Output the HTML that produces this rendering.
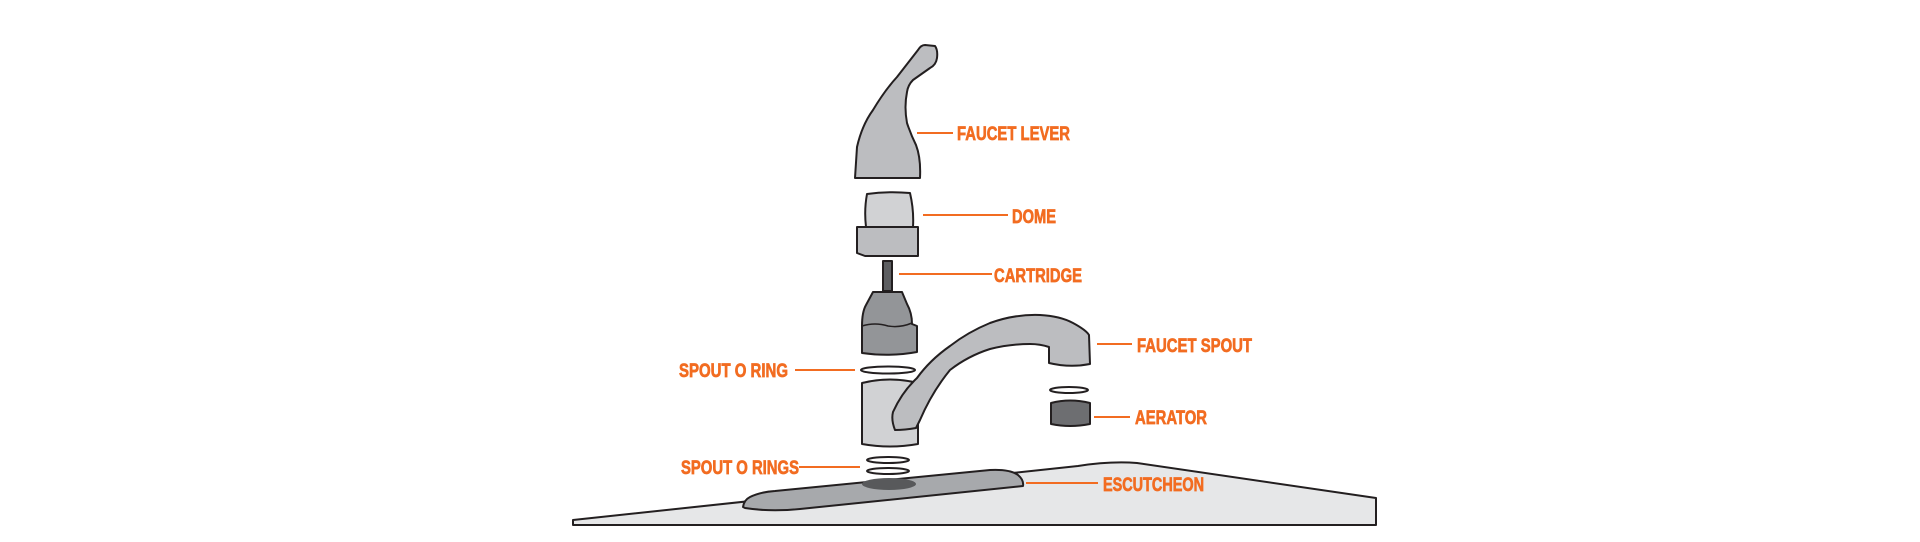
<!DOCTYPE html>
<html><head><meta charset="utf-8"><style>
html,body{margin:0;padding:0;background:#fff;}
svg{display:block;}
text{font-family:"Liberation Sans Narrow","Liberation Sans",sans-serif;font-weight:bold;fill:#f26c21;stroke:#f26c21;stroke-width:0.7px;font-size:19px;}
</style></head><body>
<svg width="1920" height="542" viewBox="0 0 1920 542" xmlns="http://www.w3.org/2000/svg">
<g stroke="#231f20" stroke-width="2" stroke-linejoin="round">
<path d="M573,520 L1078,466 Q1110,461 1137,463 L1376,498 L1376,525 L573,525 Z" fill="#e6e7e8"/>
<path d="M743,507 Q744,500 750,497 Q760,492 775,491 L990,470 Q1010,469 1018,475 Q1024,480 1023,486 L800,509 Q770,512 745,508 Z" fill="#a7a9ac"/>
<ellipse cx="889" cy="484" rx="27" ry="6" fill="#58595b" stroke="none"/>
<path d="M855,178 L857,147 Q862,125 873,110 Q885,90 897,77 L918,50 Q921,45 925,45 L935,46 Q938,50 937,58 Q936,65 930,68 L913,80 Q908,85 907,92 Q904,107 907,123 Q911,135 916,145 Q921,158 920,178 Z" fill="#bcbdc0"/>
<path d="M866,227 Q864,210 867,194 Q888,191 910,193 Q914,210 913,227 Z" fill="#d1d2d4"/>
<path d="M857,227 L918,227 L918,256 L865,256 L857,253 Z" fill="#bcbdc0"/>
<rect x="883" y="261" width="9" height="30" fill="#5d5e61"/>
<path d="M873,292 L902,292 L907,304 Q912,313 912,324 L917,326 L917,352 Q890,357 862,353 L862,326 Q862,312 866,305 Z" fill="#939598"/>
<path d="M862,326 Q875,322 888,326 Q900,328 912,323" fill="none" stroke-width="1.5"/>
<ellipse cx="888" cy="370" rx="27" ry="3.5" fill="#fff"/>
<path d="M862,383 Q890,376 918,383 L918,444 Q890,449 862,444 Z" fill="#d1d2d4"/>
<path d="M893,412 Q902,392 917,378 Q930,360 950,346 Q968,332 990,323 Q1015,314 1040,315 Q1060,316 1073,323 Q1086,330 1089,335 L1090,364 Q1070,368 1049,363 L1049,347 Q1040,344 1030,344 Q1010,344 990,349 Q968,356 950,370 Q932,392 920,420 L916,428 Q905,430 895,430 Q891,420 893,412 Z" fill="#bcbdc0"/>
<ellipse cx="1069" cy="390" rx="19" ry="3" fill="#fff"/>
<path d="M1051,403 Q1070,398 1090,403 L1090,424 Q1070,428 1051,424 Z" fill="#6d6e71"/>
<ellipse cx="888" cy="460" rx="21" ry="3" fill="#fff"/>
<ellipse cx="888" cy="471" rx="21" ry="3" fill="#fff"/>
</g>
<g stroke="#f26c21" stroke-width="2">
<line x1="917" y1="133" x2="953" y2="133"/>
<line x1="923" y1="215" x2="1008" y2="215"/>
<line x1="899" y1="274" x2="992" y2="274"/>
<line x1="1097" y1="344" x2="1132" y2="344"/>
<line x1="795" y1="370" x2="855" y2="370"/>
<line x1="1094" y1="417" x2="1130" y2="417"/>
<line x1="799" y1="467" x2="860" y2="467"/>
<line x1="1026" y1="483" x2="1098" y2="483"/>
</g>
<text x="957" y="140" textLength="113" lengthAdjust="spacingAndGlyphs">FAUCET LEVER</text>
<text x="1012" y="223" textLength="44" lengthAdjust="spacingAndGlyphs">DOME</text>
<text x="994" y="282" textLength="88" lengthAdjust="spacingAndGlyphs">CARTRIDGE</text>
<text x="1137" y="352" textLength="115" lengthAdjust="spacingAndGlyphs">FAUCET SPOUT</text>
<text x="679" y="377" textLength="109" lengthAdjust="spacingAndGlyphs">SPOUT O RING</text>
<text x="1135" y="424" textLength="72" lengthAdjust="spacingAndGlyphs">AERATOR</text>
<text x="681" y="474" textLength="118" lengthAdjust="spacingAndGlyphs">SPOUT O RINGS</text>
<text x="1103" y="491" textLength="101" lengthAdjust="spacingAndGlyphs">ESCUTCHEON</text>
</svg>
</body></html>
